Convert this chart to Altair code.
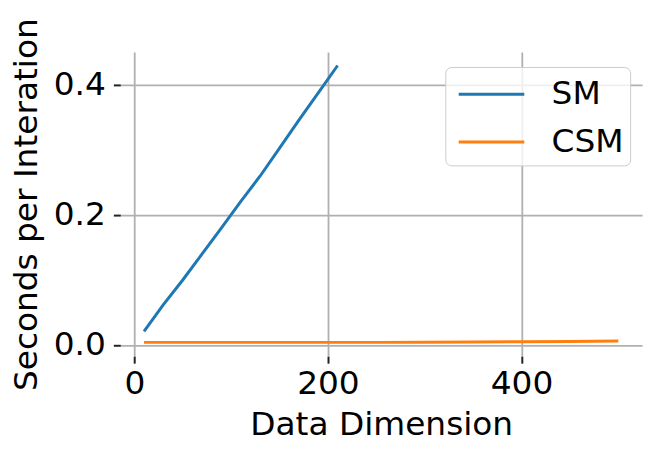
import altair as alt
import pandas as pd

sm_x = [10, 30, 50, 70, 90, 110, 130, 150, 170, 190, 210]
sm_y = [0.021, 0.062, 0.100, 0.140, 0.180, 0.221, 0.260, 0.303, 0.346, 0.388, 0.430]
csm_x = [10, 50, 100, 150, 200, 250, 300, 350, 400, 450, 500]
csm_y = [0.004, 0.004, 0.004, 0.004, 0.004, 0.004, 0.0042, 0.0046, 0.005, 0.0055, 0.006]
x_ticks = [0, 200, 400]
y_ticks = [0.0, 0.2, 0.4]

df = pd.concat([
    pd.DataFrame({"dim": sm_x, "sec": sm_y, "method": "SM"}),
    pd.DataFrame({"dim": csm_x, "sec": csm_y, "method": "CSM"}),
])

FONT = "DejaVu Sans"
FS = 33

chart = alt.Chart(df).mark_line(strokeWidth=3, clip=True).encode(
    x=alt.X("dim:Q", title="Data Dimension",
            scale=alt.Scale(domain=[-14.5, 524.5], nice=False, zero=False),
            axis=alt.Axis(values=x_ticks, format="d", labelPadding=5, titlePadding=8)),
    y=alt.Y("sec:Q", title="Seconds per Interation",
            scale=alt.Scale(domain=[-0.0173, 0.4506], nice=False, zero=False),
            axis=alt.Axis(values=y_ticks, format=".1f", labelPadding=8, titlePadding=10)),
    color=alt.Color("method:N", sort=["SM", "CSM"],
                    scale=alt.Scale(domain=["SM", "CSM"], range=["#1f77b4", "#ff7f0e"]),
                    legend=alt.Legend(title=None, orient="none", legendX=327, legendY=15,
                                      symbolType="M-0.7,0H2.6", symbolSize=1600,
                                      symbolStrokeWidth=3,
                                      labelFontSize=FS, labelFont=FONT, labelColor="black",
                                      labelOffset=58, padding=6, rowPadding=9,
                                      fillColor="rgba(255,255,255,0.8)", strokeColor="#cccccc",
                                      cornerRadius=6)),
).properties(
    width=525, height=306,
    autosize=alt.AutoSizeParams(type="none"),
    padding={"left": 113, "top": 43, "right": 10, "bottom": 95},
).configure_view(stroke=None).configure_axis(
    domain=False, grid=True, gridColor="#b0b0b0", gridWidth=1.8,
    tickColor="#222222", tickSize=7, tickWidth=2,
    labelFont=FONT, labelFontSize=FS, labelColor="black",
    titleFont=FONT, titleFontSize=FS, titleColor="black", titleFontWeight="normal",
)

chart.save("out.html", embed_options={"renderer": "svg", "actions": False})
